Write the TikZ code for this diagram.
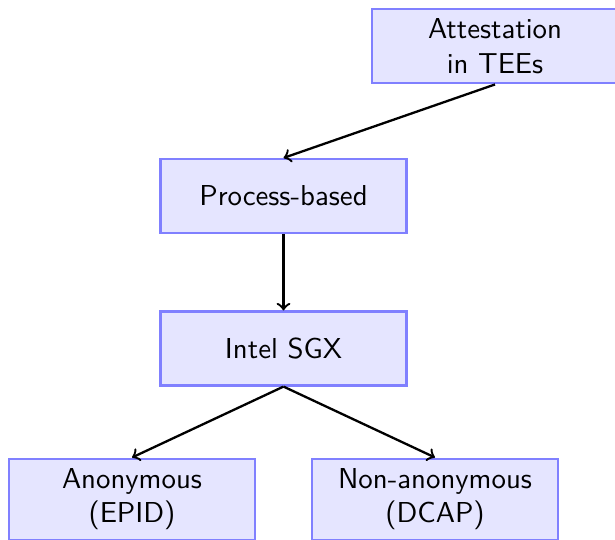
\documentclass[tikz,border=0pt]{standalone}
\renewcommand{\familydefault}{\sfdefault}
\begin{document}
\begin{tikzpicture}[x=0.012195cm, y=-0.012195cm,
  box/.style={draw=blue!50, fill=blue!10, thick, minimum width=3cm, minimum height=0.9cm,
    align=center, font=\sffamily},
  conn/.style={->, thick}]
\useasboundingbox (0,0) rectangle (615,539);
\node[box, anchor=north] (att) at (495,8) {Attestation\\in TEEs};
\node[box] (proc) at (283.5,196) {Process-based};
\node[box] (sgx) at (283.5,348.5) {Intel SGX};
\node[box, anchor=north] (anon) at (132,457.5) {Anonymous\\(EPID)};
\node[box, anchor=north] (nonanon) at (435,457.5) {Non-anonymous\\(DCAP)};
\draw[conn] (att.south) -- (proc.north);
\draw[conn] (proc.south) -- (sgx.north);
\draw[conn] (sgx.south) -- (anon.north);
\draw[conn] (sgx.south) -- (nonanon.north);
\end{tikzpicture}
\end{document}
